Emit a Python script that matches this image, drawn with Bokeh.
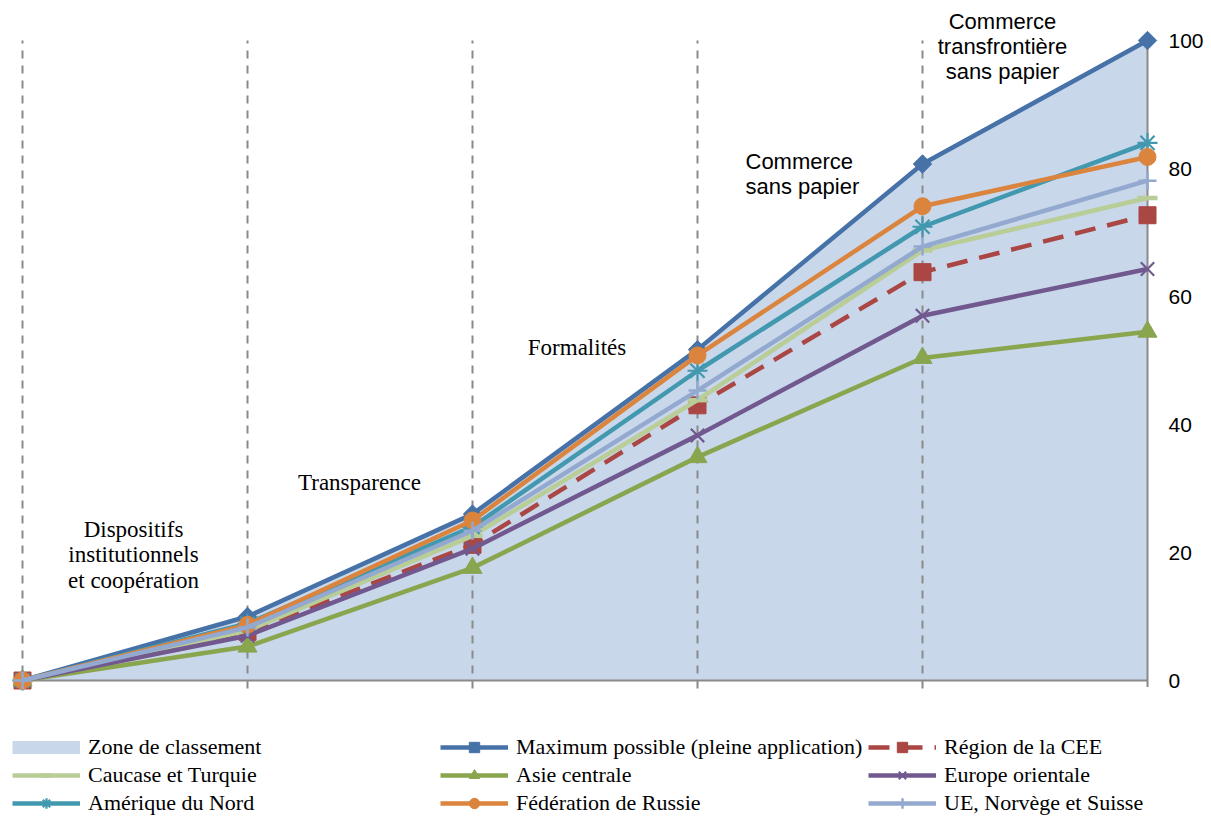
import numpy as np
from bokeh.plotting import figure
from bokeh.models import Range1d, FixedTicker, Legend, LegendItem, Label
from bokeh.embed import file_html
from bokeh.resources import INLINE

# ---------------- data ----------------
stages = ["Départ",
          "Dispositifs institutionnels et coopération",
          "Transparence",
          "Formalités",
          "Commerce sans papier",
          "Commerce transfrontière sans papier"]
x_pos = list(range(len(stages)))

maximum = [0, 10.0, 26.0, 51.7, 80.7, 100.0]
cee = [0, 7.6, 21.2, 43.0, 63.8, 72.7]
caucase = [0, 7.8, 22.6, 43.8, 67.2, 75.4]
asie = [0, 5.3, 17.6, 34.9, 50.4, 54.5]
europe_or = [0, 7.0, 20.6, 38.3, 57.0, 64.3]
amerique = [0, 8.9, 24.0, 48.4, 70.9, 84.0]
russie = [0, 8.7, 25.0, 50.8, 74.1, 81.8]
ue = [0, 8.3, 23.4, 45.3, 67.8, 78.1]

y_ticks = [0, 20, 40, 60, 80, 100]

labels_legend = ["Zone de classement", "Maximum possible (pleine application)",
                 "Région de la CEE", "Caucase et Turquie", "Asie centrale",
                 "Europe orientale", "Amérique du Nord", "Fédération de Russie",
                 "UE, Norvège et Suisse"]

# ---------------- figure ----------------
PXX = 225.0   # px per stage
PXY = 6.4     # px per unit
FW, FH = 1158, 816
p = figure(frame_width=FW, frame_height=FH, output_backend="svg",
           toolbar_location=None,
           x_range=Range1d(-22 / PXX, x_pos[-1] + 11 / PXX),
           y_range=Range1d(-(FH - 680) / PXY, 100 + 40 / PXY),
           x_axis_location=None, y_axis_location="right",
           min_border_left=0, min_border_top=0, min_border_bottom=0,
           min_border_right=0)
p.outline_line_color = None
p.grid.visible = False
p.background_fill_color = "white"
p.border_fill_color = "white"

ax = p.yaxis[0]
ax.ticker = FixedTicker(ticks=y_ticks)
ax.axis_line_color = None
ax.major_tick_line_color = None
ax.minor_tick_line_color = None
ax.major_tick_out = 0
ax.major_tick_in = 0
ax.major_label_standoff = 10
ax.major_label_text_font = "Liberation Sans"
ax.major_label_text_font_size = "21px"
ax.major_label_text_color = "black"

ZONE = "#C9D7EA"
GRID = "#8A8A8A"

# ranking zone (area under maximum)
zone_r = p.varea(x=x_pos, y1=0, y2=maximum, fill_color=ZONE)
# legend proxy for the zone (a single point: draws nothing in the plot)
zone_proxy = p.line(x=x_pos[:1], y=maximum[:1], line_color=ZONE, line_width=13)

# vertical dashed separators and axis lines
p.segment(x0=x_pos[:-1], y0=-1.25, x1=x_pos[:-1], y1=y_ticks[-1],
          line_color=GRID, line_width=2, line_dash="8 7")
p.segment(x0=[x_pos[-1]], y0=[-1.0], x1=[x_pos[-1]], y1=[y_ticks[-1]],
          line_color=GRID, line_width=2)
p.segment(x0=[x_pos[0]], y0=[y_ticks[0]], x1=[x_pos[-1]], y1=[y_ticks[0]],
          line_color=GRID, line_width=2)

LW = 4.5


def series(y, color, marker, size, dash="solid", mlw=1.0, angle=0.0):
    lr = p.line(x_pos, y, line_color=color, line_width=LW, line_dash=dash,
                line_join="round")
    sr = p.scatter(x_pos, y, marker=marker, size=size, angle=angle,
                   line_color=color, line_width=mlw, fill_color=color)
    return [lr, sr]


r_max = series(maximum, "#4672A8", "square", 13, angle=np.pi / 4)
r_cee = series(cee, "#AA4643", "square", 17, dash="21 12")
r_cau = series(caucase, "#B9CD96", "dash", 20, mlw=LW)
r_asie = series(asie, "#89A54E", "triangle", 19)
r_eo = series(europe_or, "#71588F", "x", 19, mlw=2.2)
r_am = series(amerique, "#4198AF", "asterisk", 20, mlw=2.2)
r_ru = series(russie, "#DB843D", "circle", 17)
r_ue = series(ue, "#93A9CF", "cross", 18, mlw=2.5)

cols = [
    [(labels_legend[0], [zone_proxy]), (labels_legend[3], r_cau), (labels_legend[6], r_am)],
    [(labels_legend[1], r_max), (labels_legend[4], r_asie), (labels_legend[7], r_ru)],
    [(labels_legend[2], r_cee), (labels_legend[5], r_eo), (labels_legend[8], r_ue)],
]
for vx, col in zip([12, 440, 868], cols):
    lg = Legend(items=[LegendItem(label=t, renderers=r) for t, r in col],
                location=(vx, 0), orientation="vertical",
                glyph_width=68, glyph_height=26, label_height=26,
                label_standoff=8, spacing=2, padding=0, margin=0,
                border_line_color=None, background_fill_alpha=0,
                label_text_font="Liberation Serif",
                label_text_font_size="22px", label_text_color="black")
    p.add_layout(lg, "center")

# stage annotations
SERIF, SANS = "Liberation Serif", "Liberation Sans"
notes = [
    ("Dispositifs\ninstitutionnels\net coopération", 0.4933, 25.6, "center", "top", SERIF, 1.02),
    ("Transparence", 1.4978, 31.0, "center", "alphabetic", SERIF, 1.0),
    ("Formalités", 2.4644, 52.1, "center", "alphabetic", SERIF, 1.0),
    ("Commerce\nsans papier", 3.2133, 83.1, "left", "top", SANS, 1.0),
    ("Commerce\ntransfrontière\nsans papier", 4.3556, 104.9, "center", "top", SANS, 1.0),
]
for txt, x, y, al, bl, fnt, lh in notes:
    p.add_layout(Label(x=x, y=y, text=txt, text_align=al, text_baseline=bl,
                       text_font=fnt,
                       text_font_size="23px" if fnt == SERIF else "22px",
                       text_color="black", text_line_height=lh))

open("out.html", "w").write(file_html(p, INLINE))
